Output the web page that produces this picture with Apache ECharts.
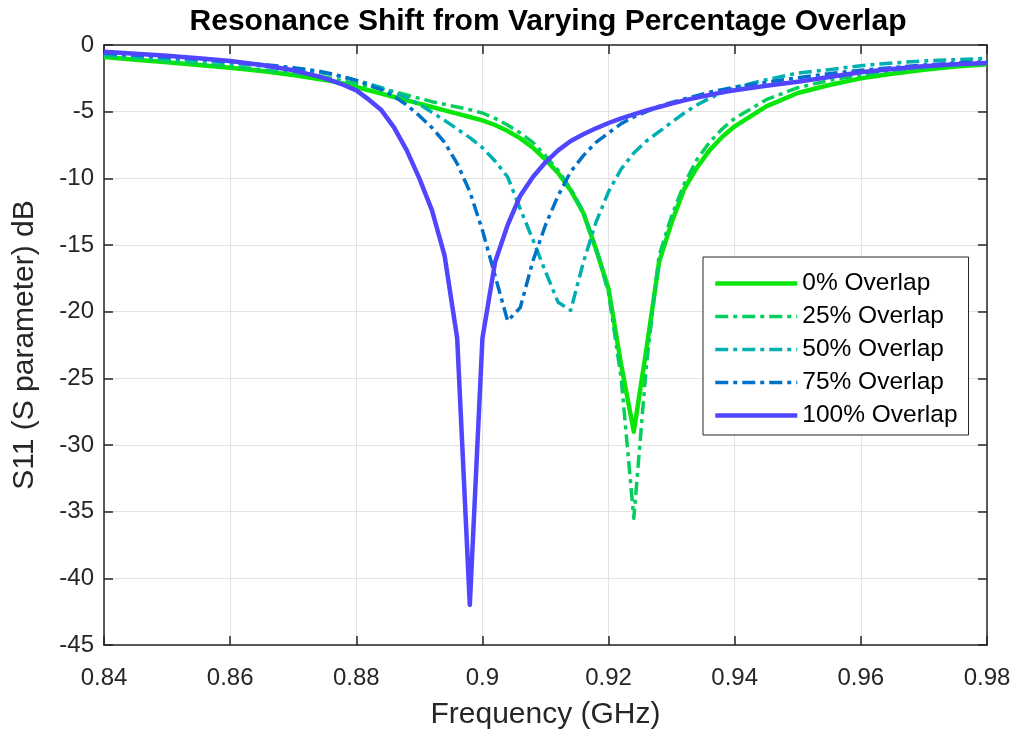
<!DOCTYPE html>
<html>
<head>
<meta charset="utf-8">
<script src="https://cdn.jsdelivr.net/npm/echarts@6/dist/echarts.min.js"></script>
<style>html,body{margin:0;padding:0;background:#fff}#c{width:1019px;height:735px}</style>
</head>
<body>
<div id="c"></div>
<script>
// Frequency samples (GHz)
const freq = [0.84,0.845,0.85,0.855,0.86,0.865,0.87,
  0.874,0.876,0.878,0.88,0.882,0.884,0.886,0.888,0.89,0.892,0.894,0.896,0.898,0.9,
  0.902,0.904,0.906,0.908,0.91,0.912,0.914,0.916,0.918,0.92,0.922,0.924,0.926,0.928,
  0.93,0.932,0.934,0.936,0.938,0.94,
  0.945,0.95,0.955,0.96,0.965,0.97,0.975,0.98];

const names = ['0% Overlap','25% Overlap','50% Overlap','75% Overlap','100% Overlap'];

const s0 = [-0.9,-1.1,-1.3,-1.5,-1.7,-1.95,-2.25,
  -2.55,-2.7,-2.9,-3.15,-3.4,-3.65,-3.9,-4.15,-4.4,-4.65,-4.9,-5.15,-5.4,-5.65,
  -6.0,-6.45,-7.0,-7.7,-8.6,-9.6,-10.9,-12.6,-15.3,-18.3,-24,-29,-22.8,-16.3,
  -13.3,-10.8,-9.2,-7.9,-6.9,-6.1,
  -4.6,-3.6,-3.0,-2.5,-2.15,-1.85,-1.62,-1.45];

const s25 = [-0.8,-1.0,-1.2,-1.4,-1.6,-1.85,-2.1,
  -2.35,-2.5,-2.7,-2.9,-3.1,-3.3,-3.5,-3.75,-4.0,-4.25,-4.45,-4.65,-4.85,-5.1,
  -5.5,-6.0,-6.6,-7.3,-8.3,-9.4,-10.8,-12.5,-15.2,-18.6,-25,-35.5,-24,-15.8,
  -12.8,-10.4,-8.6,-7.3,-6.3,-5.5,
  -4.1,-3.2,-2.65,-2.25,-1.95,-1.7,-1.5,-1.35];

const s50 = [-0.7,-0.85,-1.0,-1.15,-1.35,-1.55,-1.8,
  -2.05,-2.2,-2.4,-2.65,-2.9,-3.2,-3.55,-3.95,-4.45,-5.05,-5.65,-6.3,-6.95,-7.7,
  -8.7,-9.9,-12.3,-14.6,-17.0,-19.3,-19.9,-16.3,-13.3,-11.0,-9.3,-8.1,-7.2,-6.5,
  -5.8,-5.1,-4.5,-4.0,-3.6,-3.2,
  -2.6,-2.1,-1.85,-1.55,-1.35,-1.2,-1.1,-1.0];

const s75 = [-0.6,-0.75,-0.9,-1.05,-1.25,-1.45,-1.7,
  -1.95,-2.15,-2.4,-2.65,-3.0,-3.35,-3.85,-4.5,-5.3,-6.2,-7.3,-8.9,-11.0,-13.9,
  -17.3,-20.7,-19.7,-16.2,-13.5,-11.3,-9.5,-8.3,-7.3,-6.6,-5.9,-5.4,-5.0,-4.6,
  -4.3,-4.05,-3.8,-3.55,-3.35,-3.15,
  -2.8,-2.45,-2.15,-1.9,-1.7,-1.5,-1.35,-1.25];

const s100 = [-0.5,-0.65,-0.8,-1.0,-1.2,-1.5,-1.9,
  -2.35,-2.65,-3.0,-3.4,-4.1,-4.9,-6.2,-7.9,-10.0,-12.4,-15.8,-22,-42,-22,
  -16.3,-13.5,-11.3,-9.9,-8.8,-7.9,-7.2,-6.7,-6.25,-5.85,-5.5,-5.2,-4.9,-4.65,
  -4.4,-4.15,-3.95,-3.75,-3.55,-3.4,
  -3.05,-2.75,-2.4,-2.05,-1.8,-1.6,-1.45,-1.35];

const values = [s0, s25, s50, s75, s100];
const colors = ['#0ae60a','#05cf5c','#00b0b0','#0071c8','#5046ff'];
const dashDot = [13,5,4,5];
const styles = ['solid', dashDot, dashDot, dashDot, 'solid'];
const widths = [4.5, 3.5, 3.5, 3.5, 4.5];

const FONT = '"Liberation Sans", Arial, Helvetica, sans-serif';
const TXT = '#262626';

const chart = echarts.init(document.getElementById('c'), null, {renderer:'canvas'});

const series = values.map((v, k) => ({
  name: names[k],
  type: 'line',
  xAxisIndex: 0, yAxisIndex: 0,
  data: freq.map((f, i) => [f, v[i]]),
  symbol: 'none',
  smooth: false,
  color: colors[k],
  lineStyle: { color: colors[k], width: widths[k], type: styles[k], cap: 'butt', join: 'round' },
  z: 2 + k,
  animation: false
}));

const fmt = v => String(parseFloat(v.toFixed(3)));

option = {
  animation: false,
  backgroundColor: '#fff',
  title: {
    text: 'Resonance Shift from Varying Percentage Overlap',
    left: 543, top: 2, textAlign: 'center',
    textStyle: { fontFamily: FONT, fontSize: 30, fontWeight: 'bold', color: '#000' }
  },
  grid: { left: 104, right: 32, top: 45, bottom: 87, containLabel: false },
  legend: {
    orient: 'vertical',
    left: 703, top: 257,
    itemWidth: 82, itemHeight: 12, itemGap: 8,
    padding: [14, 11, 7, 10],
    borderColor: '#262626', borderWidth: 1, backgroundColor: '#fff',
    itemStyle: { opacity: 0 },
    lineStyle: { width: 'inherit', type: 'inherit' },
    textStyle: { fontFamily: FONT, fontSize: 24.5, color: '#000', lineHeight: 24 },
    data: names
  },
  xAxis: [{
    type: 'value', min: 0.84, max: 0.98, interval: 0.02,
    name: 'Frequency (GHz)', nameLocation: 'middle', nameGap: 55,
    nameTextStyle: { fontFamily: FONT, fontSize: 30, color: TXT },
    axisLine: { show: true, onZero: false, lineStyle: { color: TXT, width: 1.5 } },
    axisTick: { show: true, inside: true, length: 9, lineStyle: { color: TXT, width: 1.5 } },
    axisLabel: { fontFamily: FONT, fontSize: 24, color: TXT, margin: 21, formatter: fmt },
    splitLine: { show: true, lineStyle: { color: '#e3e3e3', width: 1 } }
  }, {
    type: 'value', position: 'top', min: 0.84, max: 0.98, interval: 0.02,
    axisLine: { show: true, onZero: false, lineStyle: { color: TXT, width: 1.5 } },
    axisTick: { show: true, inside: true, length: 9, lineStyle: { color: TXT, width: 1.5 } },
    axisLabel: { show: false }, splitLine: { show: false }
  }],
  yAxis: [{
    type: 'value', min: -45, max: 0, interval: 5,
    name: 'S11 (S parameter) dB', nameLocation: 'middle', nameGap: 64, nameRotate: 90,
    nameTextStyle: { fontFamily: FONT, fontSize: 30, color: TXT },
    axisLine: { show: true, onZero: false, lineStyle: { color: TXT, width: 1.5 } },
    axisTick: { show: true, inside: true, length: 9, lineStyle: { color: TXT, width: 1.5 } },
    axisLabel: { fontFamily: FONT, fontSize: 24, color: TXT, margin: 10 },
    splitLine: { show: true, lineStyle: { color: '#e3e3e3', width: 1 } }
  }, {
    type: 'value', position: 'right', min: -45, max: 0, interval: 5,
    axisLine: { show: true, onZero: false, lineStyle: { color: TXT, width: 1.5 } },
    axisTick: { show: true, inside: true, length: 9, lineStyle: { color: TXT, width: 1.5 } },
    axisLabel: { show: false }, splitLine: { show: false }
  }],
  series: series
};
chart.setOption(option);
</script>
</body>
</html>
